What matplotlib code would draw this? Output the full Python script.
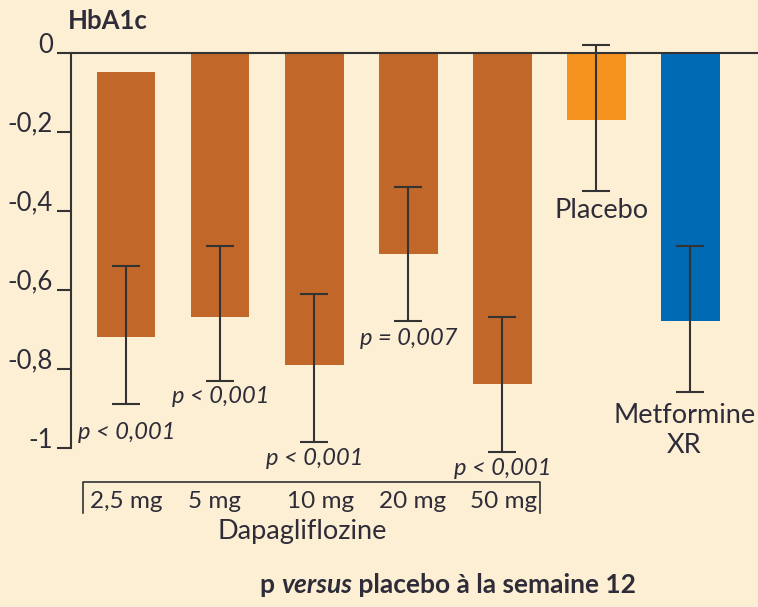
import matplotlib
matplotlib.use("Agg")
import matplotlib.pyplot as plt
from matplotlib.lines import Line2D
from matplotlib.transforms import blended_transform_factory

# HbA1c change from baseline at week 12
categories = ["2,5 mg", "5 mg", "10 mg", "20 mg", "50 mg", "Placebo", "Metformine XR"]
bar_start = [-0.05, 0, 0, 0, 0, 0, 0]
hba1c_change = [-0.72, -0.67, -0.79, -0.51, -0.84, -0.17, -0.68]
ci_upper = [-0.54, -0.49, -0.61, -0.34, -0.67, 0.02, -0.49]
ci_lower = [-0.89, -0.83, -0.985, -0.68, -1.01, -0.35, -0.86]
p_values = ["p < 0,001", "p < 0,001", "p < 0,001", "p = 0,007", "p < 0,001"]
dose_labels = categories[:5]
yticks = [0, -0.2, -0.4, -0.6, -0.8, -1]
ytick_labels = ["0", "-0,2", "-0,4", "-0,6", "-0,8", "-1"]

BG = "#FDEFD4"
INK = "#2E2C38"
LINE = "#333333"
DAPA = "#C2672A"
PLACEBO = "#F6921E"
METFORMIN = "#006AB4"
colors = [DAPA] * 5 + [PLACEBO, METFORMIN]

FONT = "Lato"
plt.rcParams["font.family"] = [FONT, "DejaVu Sans"]

W, H = 758, 607
fig = plt.figure(figsize=(W / 100, H / 100), dpi=100, facecolor=BG)


def fx(px):
    return px / W


def fy(py):
    return 1 - py / H


def pt(px):
    return px / 1.389


# axes box in pixels
ax_left, ax_right, ax_top, ax_bottom = 71, 758, 20, 470
zero_px, px_per_unit = 52.7, 395.0
ax = fig.add_axes([fx(ax_left), fy(ax_bottom), (ax_right - ax_left) / W, (ax_bottom - ax_top) / H])
ax.set_facecolor("none")
ax.set_ylim(-(ax_bottom - zero_px) / px_per_unit, (zero_px - ax_top) / px_per_unit)
ax.set_xlim(-0.588, 6.718)

x = list(range(len(categories)))
heights = [v - s for v, s in zip(hba1c_change, bar_start)]
ax.bar(x, heights, bottom=bar_start, width=0.62, color=colors, zorder=2)

err_lo = [v - lo for v, lo in zip(hba1c_change, ci_lower)]
err_hi = [hi - v for v, hi in zip(hba1c_change, ci_upper)]
ax.errorbar(x, hba1c_change, yerr=[err_lo, err_hi], fmt="none", ecolor=LINE,
            elinewidth=1.5, capsize=10, capthick=1.5, zorder=3)

for s in ["top", "right", "bottom"]:
    ax.spines[s].set_visible(False)
ax.spines["left"].set_bounds(-1, 0)
ax.spines["left"].set_color(LINE)
ax.spines["left"].set_linewidth(1.5)
ax.axhline(0, color=LINE, lw=1.5, zorder=4)
ax.set_xticks([])
ax.set_yticks(yticks)
ax.set_yticklabels(ytick_labels)
ax.tick_params(axis="y", length=10, width=1.5, color=LINE, pad=3,
               labelsize=18.5, labelcolor=INK)
for lab in ax.get_yticklabels():
    lab.set_va("baseline")

# p-value labels under each dapagliflozin error bar
p_offsets = [-28, -16, -17, -17, -17]
for i, (txt, off) in enumerate(zip(p_values, p_offsets)):
    ax.annotate(txt, (x[i], ci_lower[i]), xytext=(0, pt(off)), textcoords="offset points",
                ha="center", va="center", fontsize=17, style="italic", color=INK)

ax.annotate("Placebo", (x[5], ci_lower[5]), xytext=(pt(5), pt(-20)), textcoords="offset points",
            ha="center", va="center", fontsize=19.5, color=INK)
ax.annotate("Metformine", (x[6], ci_lower[6]), xytext=(pt(-6), pt(-23)),
            textcoords="offset points", ha="center", va="center", fontsize=19.5, color=INK)
ax.annotate("XR", (x[6], ci_lower[6]), xytext=(pt(-6), pt(-53)),
            textcoords="offset points", ha="center", va="center", fontsize=19.5, color=INK)

# y axis title
fig.text(fx(68), fy(21), "HbA1c", fontsize=18.5, fontweight="bold", color=INK, va="center")

# dapagliflozin dose bracket and labels
trans = blended_transform_factory(ax.transData, fig.transFigure)
bracket = Line2D([fx(83), fx(83), fx(540), fx(540)], [fy(513), fy(482), fy(482), fy(513)],
                 transform=fig.transFigure, color=LINE, lw=1.2)
fig.add_artist(bracket)
dose_shift = [0, -6, 6, 4, 1]
for i, lab in enumerate(dose_labels):
    fig.text(x[i], fy(501), lab, transform=trans, ha="center", va="center", fontsize=17.5,
             color=INK).set_x(x[i] + dose_shift[i] / 94.0)
fig.text(fx(302), fy(532), "Dapagliflozine", ha="center", va="center", fontsize=19.5, color=INK)

# footnote with mixed styles
fig.canvas.draw()
renderer = fig.canvas.get_renderer()
parts = [("p ", "normal"), ("versus", "italic"), (" placebo à la semaine 12", "normal")]
cur = fx(260)
for txt, st in parts:
    t = fig.text(cur, fy(585), txt, fontsize=19, fontweight="bold", style=st, color=INK,
                 va="center", ha="left")
    bb = t.get_window_extent(renderer=renderer)
    cur += bb.width / W

fig.savefig("out.png", dpi=100, facecolor=BG)
